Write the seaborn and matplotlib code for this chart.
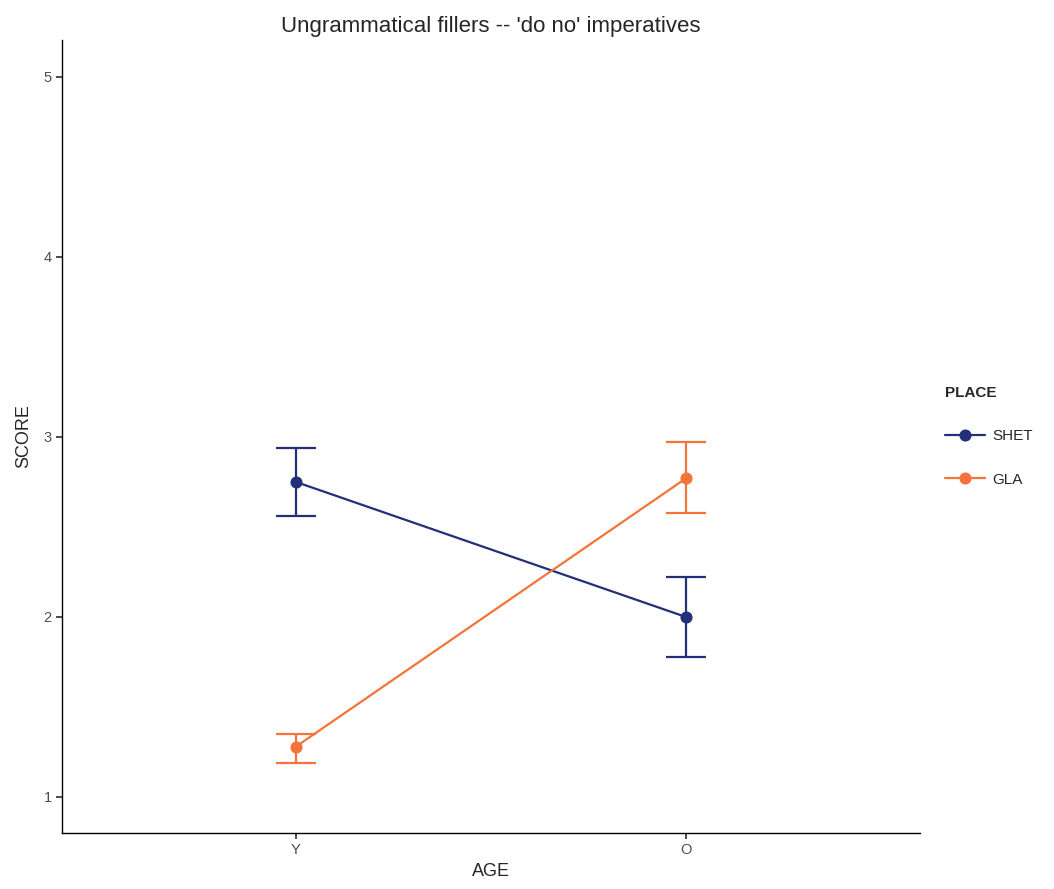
import pandas as pd
import matplotlib.pyplot as plt
import seaborn as sns

# Daten
ages = ['Y', 'O']
places = ['SHET', 'GLA']
shet_mean = [2.75, 2.00]
shet_lo = [2.56, 1.78]
shet_hi = [2.94, 2.22]
gla_mean = [1.28, 2.77]
gla_lo = [1.19, 2.58]
gla_hi = [1.35, 2.97]

colors = {'SHET': '#232f78', 'GLA': '#f4733b'}

df = pd.DataFrame({
    'AGE': ages * 2,
    'PLACE': ['SHET'] * 2 + ['GLA'] * 2,
    'SCORE': shet_mean + gla_mean,
    'lo': shet_lo + gla_lo,
    'hi': shet_hi + gla_hi,
})

sns.set_theme(style="ticks")
plt.rcParams['font.family'] = ['Liberation Sans', 'DejaVu Sans']

fig = plt.figure(figsize=(10.54, 8.89), dpi=100)
ax = fig.add_axes([0.0588, 0.063, 0.814, 0.892])

sns.pointplot(data=df, x='AGE', y='SCORE', hue='PLACE', order=ages, hue_order=places,
              palette=colors, errorbar=None, markers='o', linewidth=1.6,
              markersize=7.5, ax=ax)

# Fehlerbalken
for place in places:
    sub = df[df['PLACE'] == place].set_index('AGE').loc[ages]
    ax.errorbar(range(len(ages)), sub['SCORE'],
                yerr=[sub['SCORE'] - sub['lo'], sub['hi'] - sub['SCORE']],
                fmt='none', ecolor=colors[place], elinewidth=1.6,
                capsize=14.5, capthick=1.6, zorder=1)

ax.set_xlim(-0.6, 1.6)
ax.set_ylim(0.8, 5.205)
ax.set_yticks([1, 2, 3, 4, 5])
ax.tick_params(axis='both', labelsize=10.5, length=4, color='#333333', labelcolor='#4d4d4d')
sns.despine(ax=ax)
for s in ['left', 'bottom']:
    ax.spines[s].set_linewidth(1.0)
    ax.spines[s].set_color('black')

ax.set_xlabel('AGE', fontsize=13, labelpad=4)
ax.set_ylabel('SCORE', fontsize=13, labelpad=8)
ax.set_title("Ungrammatical fillers -- 'do no' imperatives", fontsize=16, pad=6)

leg = ax.legend(title='PLACE', loc='center left', bbox_to_anchor=(1.013, 0.5),
                frameon=False, fontsize=11, title_fontsize=11, labelspacing=1.9,
                handlelength=2.6, handletextpad=0.5)
leg.get_title().set_fontweight('bold')
leg._legend_box.align = 'left'

fig.savefig('out.png', dpi=100)
